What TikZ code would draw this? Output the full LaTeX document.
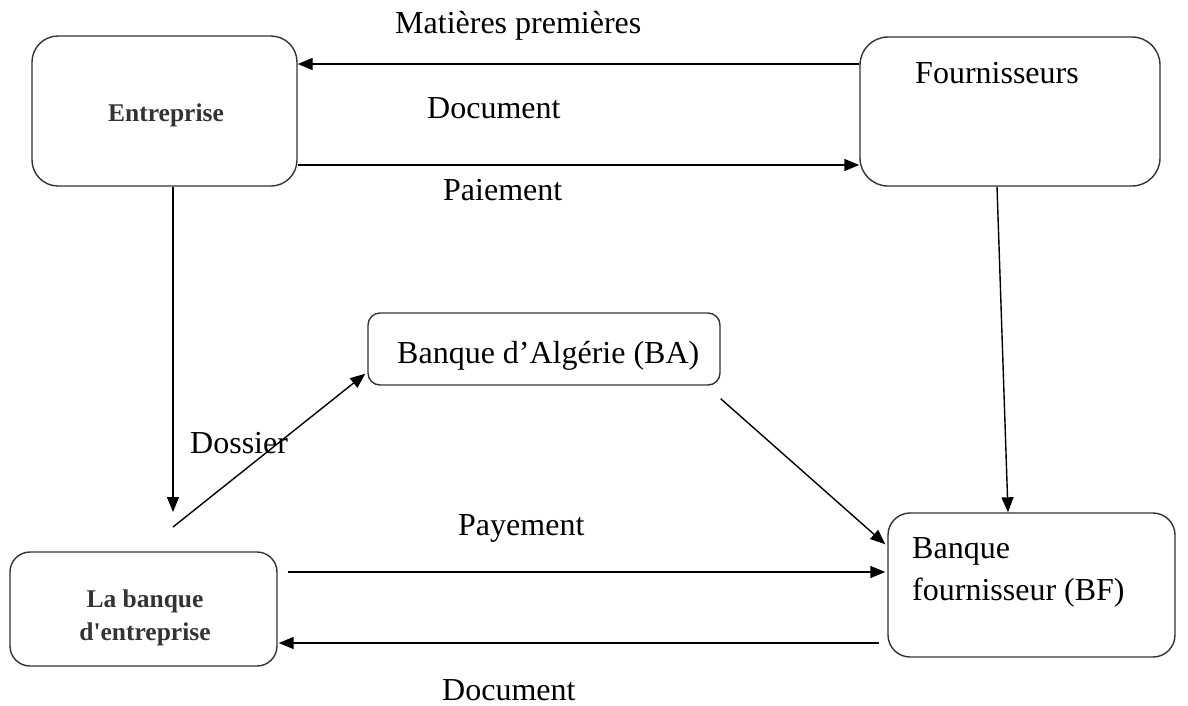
\documentclass[tikz,border=0pt]{standalone}
\usepackage{fontspec}
\setmainfont{Liberation Serif}
\usetikzlibrary{arrows.meta}
\begin{document}
\begin{tikzpicture}[x=1pt,y=-1pt,
  box/.style={draw=black!80,line width=1.4pt,inner sep=0pt},
  arr/.style={line width=1.4pt,-{Triangle[length=15pt,width=12pt]}},
  lbl/.style={anchor=base west,inner sep=0pt,font=\fontsize{32}{38}\selectfont},
  small/.style={font=\bfseries\fontsize{25.5}{30}\selectfont,text=black!80,align=center}]
\useasboundingbox (0,0) rectangle (1188,705);
% boxes
\node[box,rounded corners=26pt,minimum width=265pt,minimum height=150pt] (ent) at (164.5,111) {};
\node[small,anchor=base] (entT) at (166,121) {Entreprise};
\node[box,rounded corners=28pt,minimum width=300pt,minimum height=149pt] (fourn) at (1010,111.5) {};
\node[lbl] (fournT) at (915,83) {Fournisseurs};
\node[box,rounded corners=12pt,minimum width=352pt,minimum height=72pt] (ba) at (544,349) {};
\node[lbl] (baT) at (397,363) {Banque d’Algérie (BA)};
\node[box,rounded corners=22pt,minimum width=287pt,minimum height=144pt] (bf) at (1031.5,585) {};
\node[lbl] (bfT1) at (912,558) {Banque};
\node[lbl] (bfT2) at (912,600) {fournisseur (BF)};
\node[box,rounded corners=20pt,minimum width=267pt,minimum height=114pt] (lbe) at (143.5,609) {};
\node[small,anchor=base] (lbeT1) at (145,607) {La banque};
\node[small,anchor=base] (lbeT2) at (145,640) {d\textquotesingle entreprise};
% free ends
\coordinate (c1) at (173,512);
\coordinate (c2) at (173,527);
% connectors
\draw[arr] ([yshift=47.5pt]fourn.west) -- ([yshift=47pt]ent.east);
\draw[arr] ([yshift=-54pt]ent.east) -- ([yshift=-53.5pt]fourn.west);
\draw[arr] ([xshift=8.5pt]ent.south) -- (c1);
\draw[arr] (c2) -- ([shift={(-2pt,12pt)}]ba.south west);
\draw[arr] ([yshift=-13pt]ba.south east) -- ([shift={(-2pt,-32pt)}]bf.north west);
\draw[arr] ([xshift=-13pt]fourn.south) -- ([xshift=-23.5pt]bf.north);
\draw[arr] ([shift={(10pt,37pt)}]lbe.east) -- ([shift={(-2pt,13pt)}]bf.west);
\draw[arr] ([shift={(-8pt,-58pt)}]bf.west) -- ([shift={(1pt,-34pt)}]lbe.east);
% labels
\node[lbl] (l1) at (395,33) {Matières premières};
\node[lbl] (l2) at (427,118) {Document};
\node[lbl] (l3) at (443,200) {Paiement};
\node[lbl] (l4) at (190,453) {Dossier};
\node[lbl] (l5) at (458,535) {Payement};
\node[lbl] (l6) at (442,700) {Document};
\end{tikzpicture}
\end{document}
